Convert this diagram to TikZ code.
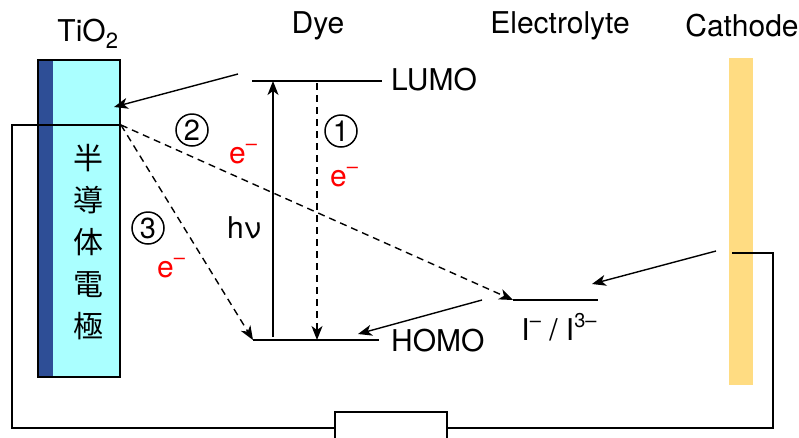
\documentclass[tikz,border=0pt]{standalone}
\usepackage{fontspec}
\setmainfont{TeX Gyre Heros}
\newfontfamily\cjk{Noto Sans CJK JP}
\usetikzlibrary{arrows.meta}
\definecolor{tiofill}{RGB}{170,255,255}
\definecolor{tiodark}{RGB}{46,78,150}
\definecolor{cathfill}{RGB}{255,220,130}
\newcommand{\sups}[1]{\raisebox{0.42em}{\fontsize{20}{20}\selectfont #1}}
\begin{document}
\begin{tikzpicture}[x=1pt,y=-1pt,
  lbl/.style={font=\fontsize{30}{32}\selectfont, inner sep=0pt},
  redl/.style={lbl, text=red},
  wire/.style={line width=1.5pt},
  lvl/.style={line width=1.6pt},
  arr/.style={line width=1.4pt, -{Stealth[length=14pt,width=11pt,inset=4pt]}},
  darr/.style={arr, dash pattern=on 7pt off 5pt},
  circnum/.style={circle, draw, line width=1.5pt, inner sep=0pt, minimum size=32pt, font=\fontsize{29}{29}\selectfont}
]
\useasboundingbox (0,0) rectangle (799,437);
\begin{scope}
\clip (0,0) rectangle (799,437);
% electrode
\fill[tiofill] (38,60) rectangle (120,377);
\fill[tiodark] (38,60) rectangle (53,377);
\draw[line width=1.2pt] (38,60) rectangle (120,377);
% cathode
\fill[cathfill] (729,58) rectangle (753,385);
% circuit
\coordinate (cA) at (120,125);
\coordinate (cB) at (12,125);
\coordinate (cC) at (12,428);
\coordinate (cD) at (335,428);
\coordinate (cE) at (447,428);
\coordinate (cF) at (773,428);
\coordinate (cG) at (773,253);
\coordinate (cH) at (732,253);
\draw[wire] (cA) -- (cB) -- (cC) -- (cD);
\draw[wire] (cE) -- (cF) -- (cG) -- (cH);
\draw[wire] (335,445) -- (335,412) -- (447,412) -- (447,445);
\end{scope}
% labels top
\node[lbl] (tio) at (88,34) {TiO\textsubscript{\fontsize{22}{22}\selectfont 2}};
\node[lbl] (dye) at (318,26) {Dye};
\node[lbl] (ely) at (560,26) {Electrolyte};
\node[lbl] (cat) at (742,26) {Cathode};
% japanese
\node[inner sep=0pt, align=center, font=\cjk\fontsize{30}{42}\selectfont] (jp) at (88,242) {半\\導\\体\\電\\極};
% levels
\coordinate (L1) at (252,81);
\coordinate (L2) at (382,81);
\coordinate (H1) at (253,340);
\coordinate (H2) at (379,340);
\coordinate (E1) at (513,300);
\coordinate (E2) at (598,300);
\draw[lvl] (L1) -- (L2);
\draw[lvl] (H1) -- (H2);
\draw[lvl] (E1) -- (E2);
\node[lbl, anchor=west] (lumo) at (391,80) {LUMO};
\node[lbl, anchor=west] (homo) at (391,341) {HOMO};
\node[lbl] (iod) at (559,327) {I\sups{–}\;/\;I\sups{3–}};
% arrows
\coordinate (hb) at (273,337);
\coordinate (ht) at (273,81);
\draw[arr] (hb) -- (ht);
\node[lbl] (hv) at (244,228) {hν};
\coordinate (d1t) at (317,83);
\coordinate (d1b) at (317,340);
\draw[darr] (d1t) -- (d1b);
\node[circnum] (n1) at (341,131) {1};
\node[redl] (e1) at (344,177) {e\sups{–}};
\coordinate (a0s) at (238,74);
\coordinate (a0e) at (114,107);
\draw[arr] (a0s) -- (a0e);
\coordinate (src) at (121,125);
\draw[darr] (src) -- (E1);
\node[circnum] (n2) at (192,130) {2};
\node[redl] (e2) at (243,154) {e\sups{–}};
\draw[darr] (src) -- (H1);
\node[circnum] (n3) at (148,228) {3};
\node[redl] (e3) at (171,268) {e\sups{–}};
\coordinate (b0s) at (482,300);
\coordinate (b0e) at (358,334);
\draw[arr] (b0s) -- (b0e);
\coordinate (c0s) at (716,251);
\coordinate (c0e) at (592,284);
\draw[arr] (c0s) -- (c0e);
\end{tikzpicture}
\end{document}
